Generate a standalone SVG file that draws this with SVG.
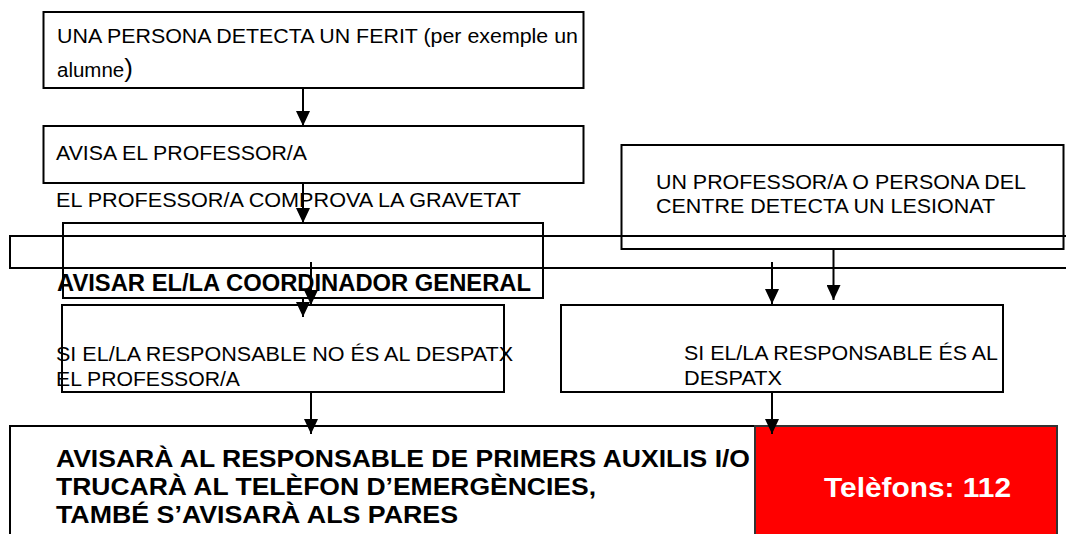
<svg xmlns="http://www.w3.org/2000/svg" width="1066" height="534" viewBox="0 0 1066 534">
  <defs>
    <style>
      .box { fill: none; stroke: #000; stroke-width: 2; }
      .t { font-family: "Liberation Sans", Arial, sans-serif; font-size: 20.5px; fill: #000; }
      .tb { font-family: "Liberation Sans", Arial, sans-serif; font-weight: bold; fill: #000; }
      .conn { stroke: #000; stroke-width: 2; fill: none; marker-end: url(#arrow); }
    </style>
    <marker id="arrow" markerUnits="userSpaceOnUse" markerWidth="15" markerHeight="14" refX="15" refY="7" orient="auto">
      <path d="M0,0 L15,7 L0,14 z" fill="#000"/>
    </marker>
  </defs>
  <rect x="0" y="0" width="1066" height="534" fill="#fff"/>

  <g id="band">
    <rect class="box" x="10" y="236" width="1080" height="32"/>
  </g>

  <g id="node-detecta">
    <rect class="box" x="43.5" y="12" width="540" height="76"/>
    <text class="t" x="57" y="43" textLength="521" lengthAdjust="spacingAndGlyphs">UNA PERSONA DETECTA UN FERIT (per exemple un</text>
    <text class="t" x="57" y="77">alumne<tspan font-size="26">)</tspan></text>
  </g>

  <g id="node-avisa">
    <rect class="box" x="43.5" y="126" width="540" height="57"/>
    <text class="t" x="56" y="160" textLength="251" lengthAdjust="spacingAndGlyphs">AVISA EL PROFESSOR/A</text>
  </g>

  <g id="label-comprova">
    <text class="t" x="56" y="207" textLength="465" lengthAdjust="spacingAndGlyphs">EL PROFESSOR/A COMPROVA LA GRAVETAT</text>
  </g>

  <g id="node-coordinador">
    <rect class="box" x="63" y="223" width="480" height="75"/>
    <text class="tb" x="57" y="291" font-size="23" textLength="474" lengthAdjust="spacingAndGlyphs">AVISAR EL/LA COORDINADOR GENERAL</text>
  </g>

  <g id="node-no-despatx">
    <rect class="box" x="62" y="305" width="442" height="87"/>
    <text class="t" x="56" y="361" textLength="457" lengthAdjust="spacingAndGlyphs">SI EL/LA RESPONSABLE NO ÉS AL DESPATX</text>
    <text class="t" x="56" y="386" textLength="184" lengthAdjust="spacingAndGlyphs">EL PROFESSOR/A</text>
  </g>

  <g id="node-lesionat">
    <rect class="box" x="621.5" y="145" width="442" height="104"/>
    <text class="t" x="656" y="189" textLength="370" lengthAdjust="spacingAndGlyphs">UN PROFESSOR/A O PERSONA DEL</text>
    <text class="t" x="656" y="213" textLength="339" lengthAdjust="spacingAndGlyphs">CENTRE DETECTA UN LESIONAT</text>
  </g>

  <g id="node-despatx">
    <rect class="box" x="561" y="305" width="442" height="87"/>
    <text class="t" x="684" y="360" textLength="314" lengthAdjust="spacingAndGlyphs">SI EL/LA RESPONSABLE ÉS AL</text>
    <text class="t" x="684" y="385" textLength="98" lengthAdjust="spacingAndGlyphs">DESPATX</text>
  </g>

  <g id="node-avisara">
    <rect x="10" y="426" width="760" height="130" fill="#fff" stroke="#000" stroke-width="2"/>
    <text class="tb" x="56" y="467" font-size="24.5" textLength="694" lengthAdjust="spacingAndGlyphs">AVISARÀ AL RESPONSABLE DE PRIMERS AUXILIS I/O</text>
    <text class="tb" x="56" y="495" font-size="24.5" textLength="540" lengthAdjust="spacingAndGlyphs">TRUCARÀ AL TELÈFON D’EMERGÈNCIES,</text>
    <text class="tb" x="56" y="523" font-size="24.5" textLength="402" lengthAdjust="spacingAndGlyphs">TAMBÉ S’AVISARÀ ALS PARES</text>
  </g>

  <g id="node-telefons">
    <rect x="755" y="426" width="302" height="130" fill="#f00" stroke="#333" stroke-width="2"/>
    <text class="tb" x="824" y="497" font-size="28" textLength="187" lengthAdjust="spacingAndGlyphs" style="fill:#fff">Telèfons: 112</text>
  </g>

  <g id="connectors">
    <line class="conn" x1="303" y1="88" x2="303" y2="126"/>
    <line class="conn" x1="303" y1="183" x2="303" y2="223"/>
    <line class="conn" x1="311" y1="262" x2="311" y2="305"/>
    <line class="conn" x1="303" y1="298" x2="303" y2="317"/>
    <line class="conn" x1="311" y1="392" x2="311" y2="434"/>
    <line class="conn" x1="833.5" y1="249" x2="833.5" y2="300"/>
    <line class="conn" x1="772" y1="262" x2="772" y2="304"/>
    <line class="conn" x1="772" y1="392" x2="772" y2="434"/>
  </g>
</svg>
